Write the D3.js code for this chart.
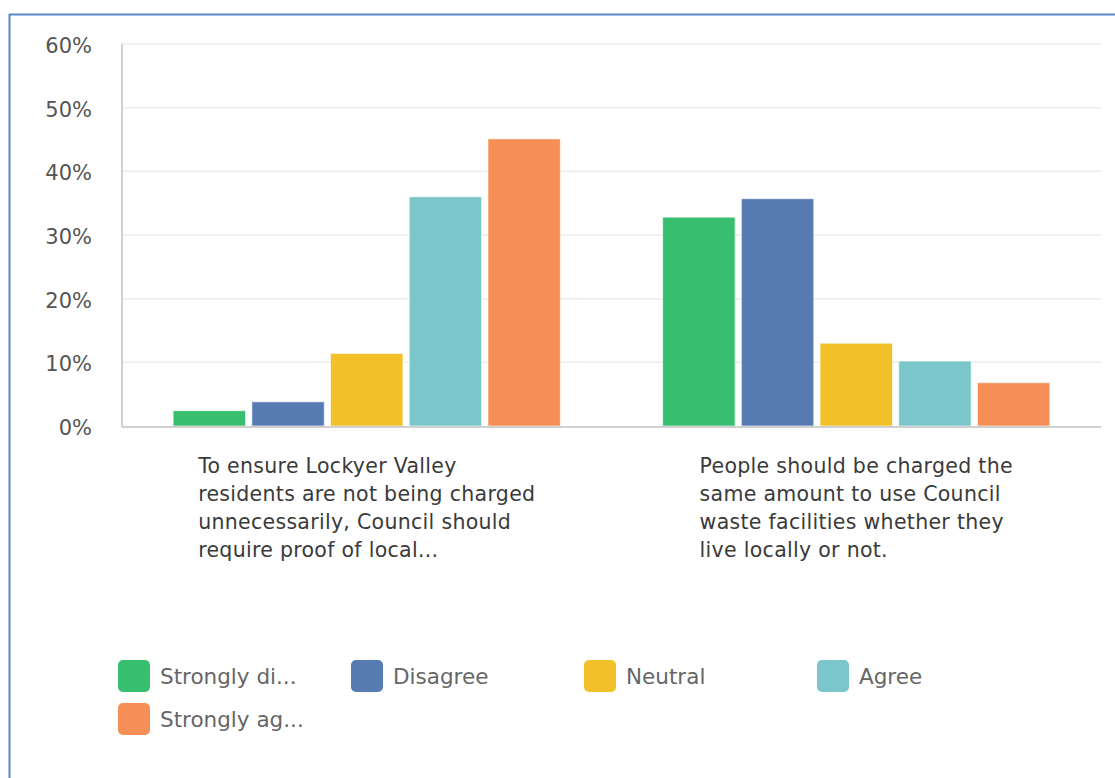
<!DOCTYPE html>
<html><head><meta charset="utf-8">
<script src="https://cdn.jsdelivr.net/npm/d3@7"></script>
<style>
html,body{margin:0;padding:0;background:#fff;}
svg{display:block;font-family:"DejaVu Sans",sans-serif;}
</style></head>
<body><svg id="c" width="1115" height="778"></svg>
<script>
const categories = [
  ["To ensure Lockyer Valley","residents are not being charged","unnecessarily, Council should","require proof of local..."],
  ["People should be charged the","same amount to use Council","waste facilities whether they","live locally or not."]
];
const seriesNames = ["Strongly disagree","Disagree","Neutral","Agree","Strongly agree"];
const legendLabels = ["Strongly di...","Disagree","Neutral","Agree","Strongly ag..."];
const seriesColors = ["#37be6e","#587bb4","#f2c028","#7ac6cb","#f68f55"];
const values = [
  [2.4, 3.8, 11.4, 36.0, 45.1],
  [32.8, 35.7, 13.0, 10.2, 6.8]
];
const yTicks = [0,10,20,30,40,50,60];

(function(){
const svg = d3.select("#c");
svg.append("rect").attr("x",9.5).attr("y",14.5).attr("width",1200).attr("height",900)
  .attr("fill","none").attr("stroke","#5b86c6").attr("stroke-width",2);

const pL=122, pR=1101, pT=44, pB=426;
const y = d3.scaleLinear().domain([0,60]).range([pB,pT]);
const x0 = d3.scaleBand().domain(d3.range(categories.length)).range([pL,pR]);
const x1 = d3.scaleBand().domain(d3.range(seriesNames.length)).range([0,x0.bandwidth()]).paddingInner(0.08).paddingOuter(0.65);

svg.append("g").selectAll("line").data(yTicks.filter(d=>d>0)).join("line")
  .attr("x1",pL).attr("x2",pR).attr("y1",d=>y(d)).attr("y2",d=>y(d))
  .attr("stroke","#ececec").attr("stroke-width",1.5);

const yAxis = d3.axisLeft(y).tickValues(yTicks).tickFormat(d=>d+"%").tickSize(0).tickPadding(30);
const ga = svg.append("g").attr("transform",`translate(${pL},0)`).call(yAxis);
ga.select(".domain").remove();
ga.selectAll("text").attr("font-size",21).attr("fill","#555").attr("font-family","DejaVu Sans, sans-serif")
  .attr("dy","0.4em");

const groups = svg.append("g").selectAll("g").data(values).join("g")
  .attr("transform",(d,i)=>`translate(${x0(i)},0)`);
groups.selectAll("rect").data(d=>d).join("rect")
  .attr("x",(d,i)=>x1(i)).attr("width",x1.bandwidth())
  .attr("y",d=>y(d)).attr("height",d=>pB-y(d))
  .attr("fill",(d,i)=>seriesColors[i])
  .attr("stroke","rgba(255,255,255,0.6)").attr("stroke-width",1);

svg.append("line").attr("x1",pL).attr("x2",pL).attr("y1",pT).attr("y2",pB+1)
  .attr("stroke","#d0d0d0").attr("stroke-width",2);
svg.append("line").attr("x1",pL).attr("x2",pR).attr("y1",pB+1).attr("y2",pB+1)
  .attr("stroke","#d0d0d0").attr("stroke-width",2);

categories.forEach((lines,i)=>{
  const g = svg.append("g");
  const t = g.selectAll("text").data(lines).join("text")
    .attr("y",(d,j)=>473+j*28).attr("font-size",20.5).attr("letter-spacing",0.3)
    .attr("fill","#3a3a3a").text(d=>d);
  let w=0; t.each(function(){w=Math.max(w,this.getComputedTextLength());});
  const cx = x0(i)+x0.bandwidth()/2;
  t.attr("x",cx-w/2);
});

const legX = d3.scaleLinear().domain([0,1]).range([118,351]);
const leg = svg.append("g").selectAll("g").data(legendLabels).join("g")
  .attr("transform",(d,i)=>`translate(${legX(i%4)},${660+Math.floor(i/4)*43})`);
leg.append("rect").attr("width",32).attr("height",32).attr("rx",5)
  .attr("fill",(d,i)=>seriesColors[i]);
leg.append("text").attr("x",42).attr("y",24).attr("font-size",21.5).attr("fill","#666").text(d=>d);
})();
</script></body></html>
